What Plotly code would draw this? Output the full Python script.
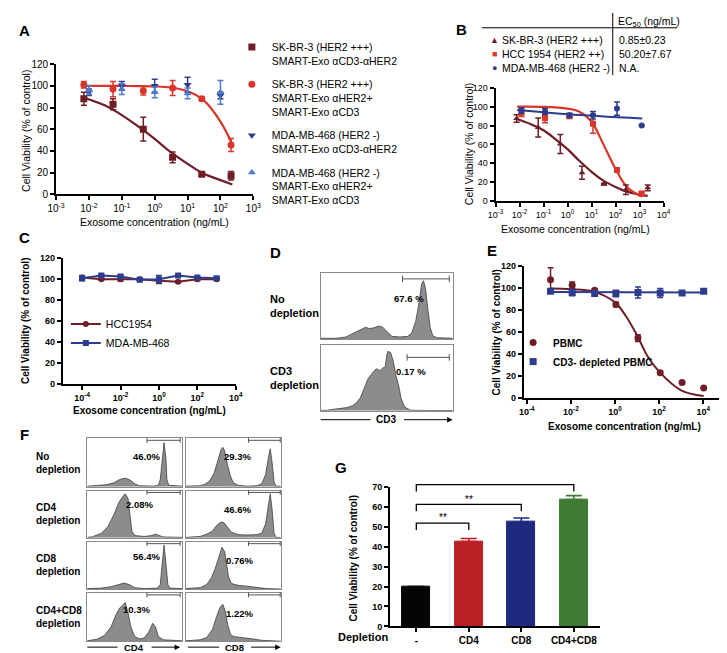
import plotly.graph_objects as go

W, H = 727, 653
FONT = "Liberation Sans, Arial, sans-serif"

maroon = "#6f1d26"
red = "#d8352b"
navy = "#2c3c8e"
lightblue = "#4d7ccc"

# ---------- A : SMART-Exo on SK-BR-3 / MDA-MB-468 ----------
a_conc = [0.007, 0.054, 0.45, 3.5, 27, 210]
a_sk_bis = [88, 83, 60, 34, 18.5, 17]
a_sk_bis_err = [6, 5, 11, 5, 1, 4]
a_sk_mix = [101, 97, 95.5, 98, 88, 45.5]
a_sk_mix_err = [3, 7, 4, 7, 2, 6]
a_mda_conc = [0.01, 0.1, 1, 10, 100]
a_mda_bis = [94, 100, 100, 101, 91]
a_mda_bis_err = [3, 4, 6, 7, 3]
a_mda_mix = [96, 97, 94, 93, 94]
a_mda_mix_err = [4, 5, 5, 5, 11]
a_fit_conc = [0.007, 0.03, 0.1, 0.3, 1, 3, 10, 30, 100, 230]
a_fit_bis = [89, 82, 73, 63, 51, 39, 28, 19, 13, 9]
a_fit_mix = [100, 100, 99.9, 99.8, 99.5, 98.5, 95, 87, 67, 46]
a_ticks = [1e-3, 1e-2, 1e-1, 1, 10, 100, 1000]
a_ticktext = ["10<sup>-3</sup>", "10<sup>-2</sup>", "10<sup>-1</sup>", "10<sup>0</sup>",
              "10<sup>1</sup>", "10<sup>2</sup>", "10<sup>3</sup>"]

# ---------- B : three cell lines ----------
b_sk_conc = [0.0076, 0.06, 0.5, 4, 33, 270, 2200]
b_sk = [87.5, 78, 60.5, 30, 18, 12, 14]
b_sk_err = [4, 10, 10, 7, 1, 5, 3]
b_conc = [0.012, 0.115, 1.2, 11.5, 115, 1230]
b_hcc = [93.5, 88, 90, 82, 33, 8]
b_hcc_err = [4, 5, 2, 10, 2, 2]
b_mda = [96, 95, 91, 91, 98, 80]
b_mda_err = [3, 3, 2, 4, 7, 0]
b_fit_sk_conc = [0.0076, 0.03, 0.1, 0.3, 1, 3, 10, 30, 100, 300, 1000, 2200]
b_fit_sk = [87, 81.5, 75, 66, 55, 43, 31, 22, 15, 10, 7, 5.5]
b_fit_hcc_conc = [0.008, 0.1, 1, 3, 10, 30, 100, 300, 1000, 1300]
b_fit_hcc = [100, 99.8, 98, 95, 84, 61, 34, 15, 6, 5]
b_fit_mda_conc = [0.008, 1, 1300]
b_fit_mda = [96.5, 92, 87.5]
b_ticks = [1e-3, 1e-2, 1e-1, 1, 10, 100, 1000, 1e4]
b_ticktext = a_ticktext + ["10<sup>4</sup>"]
b_rows = ["SK-BR-3 (HER2 +++)", "HCC 1954 (HER2 ++)", "MDA-MB-468 (HER2 -)"]
b_symbols = ["\u25b2", "\u25a0", "\u25cf"]
b_ec50 = ["0.85\u00b10.23", "50.20\u00b17.67", "N.A."]

# ---------- C : HER2 negative control exosomes ----------
c_conc = [1e-4, 1e-3, 1e-2, 1e-1, 1, 10, 100, 1000]
c_hcc = [101.5, 100, 100, 100, 98.5, 97.5, 100, 100]
c_hcc_err = [1.5, 1, 2, 1, 2.5, 1, 1.5, 1]
c_mda = [101, 103.5, 102.5, 99.5, 100, 103.5, 101.5, 101]
c_mda_err = [2.5, 1, 1.5, 1, 3.5, 1, 1, 1]
ce_ticks = [1e-4, 1e-2, 1, 100, 1e4]
ce_ticktext = ["10<sup>-4</sup>", "10<sup>-2</sup>", "10<sup>0</sup>", "10<sup>2</sup>", "10<sup>4</sup>"]

# ---------- E : PBMC vs CD3-depleted PBMC ----------
e_conc = [0.0012, 0.0115, 0.12, 1.1, 11, 112, 1100, 10500]
e_pbmc = [107.5, 102.5, 98, 85, 54.5, 23, 14, 9]
e_pbmc_err = [11, 3, 1, 2, 3, 1, 0, 0]
e_cd3 = [97, 96, 95, 95, 96, 95.5, 95.5, 97]
e_cd3_err = [1, 3, 2, 3, 5, 4, 1, 1]
e_fit_conc = [0.0012, 0.01, 0.1, 1, 3, 10, 30, 100, 1000, 10500]
e_fit_pbmc = [99.5, 99, 97, 87, 75, 57, 38, 24, 7, 1.8]
e_fit_cd3_conc = [0.0012, 10500]
e_fit_cd3 = [96.5, 96]

# ---------- G : depletion bar chart ----------
g_cats = ["-", "CD4", "CD8", "CD4+CD8"]
g_vals = [20, 42.5, 52.3, 63.5]
g_err = [0, 1.5, 2, 2]
g_colors = ["#050505", "#bb1f26", "#1f2a7e", "#3f7b35"]
g_pairs = [(0, 1), (0, 2), (0, 3)]
g_bracket = [51.7, 61.1, 71]

# ---------- D / F : flow histograms (relative channel, relative count) ----------
d_no_x = [0, 0.12, 0.19, 0.24, 0.29, 0.34, 0.37, 0.4, 0.44, 0.47, 0.5, 0.54, 0.6, 0.66, 0.69,
          0.72, 0.745, 0.765, 0.78, 0.795, 0.81, 0.83, 0.85, 0.88, 1.0]
d_no_y = [0.01, 0.01, 0.03, 0.08, 0.14, 0.18, 0.16, 0.17, 0.2, 0.18, 0.12, 0.04, 0.03, 0.04, 0.09,
          0.27, 0.55, 0.85, 0.9, 0.78, 0.5, 0.18, 0.05, 0.02, 0.01]
d_cd3_x = [0, 0.05, 0.14, 0.2, 0.24, 0.27, 0.3, 0.33, 0.36, 0.39, 0.42, 0.45, 0.47, 0.49, 0.5,
           0.51, 0.53, 0.55, 0.57, 0.59, 0.61, 0.635, 0.68, 0.8, 1.0]
d_cd3_y = [0.005, 0.01, 0.035, 0.05, 0.08, 0.12, 0.2, 0.36, 0.5, 0.58, 0.65, 0.62, 0.66, 0.68, 0.85,
           0.92, 0.9, 0.77, 0.55, 0.4, 0.19, 0.06, 0.01, 0.005, 0.005]
d_labels = ["No<br>depletion", "CD3<br>depletion"]
d_pct = ["67.6 %", "0.17 %"]

f_cd4_x = [
    [0, 0.1, 0.2, 0.28, 0.34, 0.4, 0.45, 0.5, 0.55, 0.7, 0.75, 0.77, 0.79, 0.81, 0.83, 0.84, 0.86, 1.0],
    [0, 0.05, 0.15, 0.22, 0.28, 0.33, 0.37, 0.4, 0.43, 0.45, 0.47, 0.5, 0.6, 0.68, 0.72, 0.76, 0.8, 1.0],
    [0, 0.15, 0.25, 0.33, 0.39, 0.45, 0.5, 0.6, 0.74, 0.77, 0.79, 0.81, 0.83, 0.85, 0.87, 1.0],
    [0, 0.1, 0.18, 0.25, 0.3, 0.34, 0.37, 0.4, 0.43, 0.46, 0.5, 0.55, 0.6, 0.65, 0.69, 0.72, 0.75, 0.8, 1.0],
]
f_cd4_y = [
    [0.01, 0.02, 0.04, 0.08, 0.15, 0.18, 0.14, 0.06, 0.02, 0.01, 0.03, 0.15, 0.6, 0.93, 0.6, 0.15, 0.03, 0.01],
    [0.01, 0.02, 0.1, 0.25, 0.5, 0.75, 0.88, 0.95, 0.85, 0.5, 0.15, 0.05, 0.03, 0.05, 0.08, 0.05, 0.02, 0.01],
    [0.01, 0.02, 0.05, 0.1, 0.13, 0.09, 0.03, 0.01, 0.02, 0.1, 0.5, 0.95, 0.55, 0.1, 0.02, 0.01],
    [0.01, 0.04, 0.12, 0.3, 0.55, 0.7, 0.75, 0.82, 0.6, 0.3, 0.1, 0.05, 0.07, 0.2, 0.38, 0.3, 0.1, 0.03, 0.01],
]
f_cd8_x = [
    [0, 0.15, 0.2, 0.25, 0.3, 0.34, 0.37, 0.39, 0.41, 0.44, 0.47, 0.5, 0.55, 0.65, 0.75, 0.8, 0.84, 0.87,
     0.89, 0.91, 0.93, 0.95, 1.0],
    [0, 0.15, 0.22, 0.28, 0.33, 0.37, 0.4, 0.44, 0.48, 0.55, 0.65, 0.75, 0.8, 0.84, 0.87, 0.89, 0.91,
     0.93, 0.95, 1.0],
    [0, 0.15, 0.22, 0.27, 0.31, 0.35, 0.38, 0.41, 0.43, 0.45, 0.48, 0.55, 0.65, 0.75, 0.85, 1.0],
    [0, 0.15, 0.22, 0.28, 0.32, 0.36, 0.39, 0.42, 0.44, 0.47, 0.5, 0.6, 0.7, 0.8, 1.0],
]
f_cd8_y = [
    [0.01, 0.02, 0.05, 0.12, 0.3, 0.55, 0.78, 0.83, 0.75, 0.45, 0.22, 0.08, 0.03, 0.01, 0.02, 0.06, 0.25,
     0.6, 0.8, 0.5, 0.1, 0.01, 0.01],
    [0.01, 0.03, 0.08, 0.15, 0.28, 0.34, 0.33, 0.22, 0.12, 0.07, 0.06, 0.07, 0.1, 0.3, 0.7, 0.95, 0.6,
     0.1, 0.01, 0.01],
    [0.01, 0.03, 0.1, 0.25, 0.45, 0.7, 0.9, 0.8, 0.5, 0.25, 0.12, 0.08, 0.06, 0.03, 0.01, 0.0],
    [0.01, 0.03, 0.08, 0.25, 0.5, 0.72, 0.78, 0.6, 0.35, 0.15, 0.1, 0.08, 0.05, 0.02, 0.0],
]
f_labels = ["No<br>depletion", "CD4<br>depletion", "CD8<br>depletion", "CD4+CD8<br>depletion"]
f_cd4_pct = ["46.0%", "2.08%", "56.4%", "10.3%"]
f_cd8_pct = ["29.3%", "46.6%", "0.76%", "1.22%"]


def xd(a, b):
    return [a / W, b / W]


def yd(top, bottom):
    return [1 - bottom / H, 1 - top / H]


def tfont(size, bold=False, color="black"):
    return dict(family=FONT, size=size, color=color, weight="bold" if bold else "normal")


fig = go.Figure()
axes = {}


def curve_axes(n, xdom, ydom, xrng, xticks, xtext, yrng, ydtick, size, bold):
    s = "" if n == 1 else str(n)
    common = dict(showline=True, linecolor="black", linewidth=2, ticks="outside", ticklen=4,
                  tickwidth=1.6, tickcolor="black", showgrid=False, zeroline=False,
                  tickfont=tfont(size, bold))
    axes["xaxis" + s] = dict(domain=xdom, type="log", range=xrng, tickvals=xticks, ticktext=xtext,
                             anchor="y" + s, **common)
    axes["yaxis" + s] = dict(domain=ydom, range=yrng, dtick=ydtick, anchor="x" + s, **common)


def box_axes(n, xdom, ydom):
    s = str(n)
    common = dict(showline=True, mirror=True, linecolor="#8a8a8a", linewidth=1, ticks="",
                  showticklabels=False, showgrid=False, zeroline=False, fixedrange=True)
    axes["xaxis" + s] = dict(domain=xdom, range=[0, 1], anchor="y" + s, **common)
    axes["yaxis" + s] = dict(domain=ydom, range=[0, 1.02], anchor="x" + s, **common)


def errs(arr, col, w=3):
    return dict(type="data", array=arr, color=col, thickness=1.5, width=w)


def note(text, x, y, size=10.5, bold=False, xanchor="center", angle=0, color="black", align="center"):
    fig.add_annotation(text=text, x=x / W, y=1 - y / H, xref="paper", yref="paper", showarrow=False,
                       font=tfont(size, bold, color), xanchor=xanchor, yanchor="middle",
                       textangle=angle, align=align)


def hline(x0, x1, y, col="black", w=1):
    fig.add_shape(type="line", x0=x0 / W, x1=x1 / W, y0=1 - y / H, y1=1 - y / H,
                  xref="paper", yref="paper", line=dict(color=col, width=w))


def arrow(x0, x1, y):
    fig.add_annotation(x=x1 / W, y=1 - y / H, xref="paper", yref="paper", ax=-(x1 - x0), ay=0,
                       text="", showarrow=True, arrowhead=2, arrowsize=1.1, arrowwidth=1,
                       arrowcolor="black")


# ---------------- panel A ----------------
curve_axes(1, xd(40, 242), yd(52, 184), [-3, 3], a_ticks, a_ticktext, [0, 120], 20, 10, False)
fig.add_trace(go.Scatter(x=a_fit_conc, y=a_fit_bis, mode="lines", line=dict(color=maroon, width=2.2, shape="spline"),
                         xaxis="x", yaxis="y", showlegend=False, hoverinfo="skip"))
fig.add_trace(go.Scatter(x=a_fit_conc, y=a_fit_mix, mode="lines", line=dict(color=red, width=2.2, shape="spline"),
                         xaxis="x", yaxis="y", showlegend=False, hoverinfo="skip"))
a_series = [
    (a_conc, a_sk_bis, a_sk_bis_err, "square", maroon, "SK-BR-3 (HER2 +++)<br>SMART-Exo \u03b1CD3-\u03b1HER2"),
    (a_conc, a_sk_mix, a_sk_mix_err, "circle", red, "SK-BR-3 (HER2 +++)<br>SMART-Exo \u03b1HER2+<br>SMART-Exo \u03b1CD3"),
    (a_mda_conc, a_mda_bis, a_mda_bis_err, "triangle-down", navy, "MDA-MB-468 (HER2 -)<br>SMART-Exo \u03b1CD3-\u03b1HER2"),
    (a_mda_conc, a_mda_mix, a_mda_mix_err, "triangle-up", lightblue, "MDA-MB-468 (HER2 -)<br>SMART-Exo \u03b1HER2+<br>SMART-Exo \u03b1CD3"),
]
for i, (xs, ys, es, sym, col, name) in enumerate(a_series):
    fig.add_trace(go.Scatter(x=xs, y=ys, mode="markers", marker=dict(symbol=sym, size=7, color=col),
                             error_y=errs(es, col), xaxis="x", yaxis="y", name=name,
                             legend="legend", legendgroup="a%d" % i))

# ---------------- panel B ----------------
curve_axes(2, xd(490, 662), yd(76, 191), [-3, 4], b_ticks, b_ticktext, [0, 120], 20, 9, False)
for xs, ys, col in [(b_fit_sk_conc, b_fit_sk, maroon), (b_fit_hcc_conc, b_fit_hcc, red),
                    (b_fit_mda_conc, b_fit_mda, navy)]:
    fig.add_trace(go.Scatter(x=xs, y=ys, mode="lines", line=dict(color=col, width=2.2, shape="spline"),
                             xaxis="x2", yaxis="y2", showlegend=False, hoverinfo="skip"))
for xs, ys, es, sym, col in [(b_sk_conc, b_sk, b_sk_err, "triangle-up", maroon),
                             (b_conc, b_hcc, b_hcc_err, "square", red),
                             (b_conc, b_mda, b_mda_err, "circle", navy)]:
    fig.add_trace(go.Scatter(x=xs, y=ys, mode="markers", marker=dict(symbol=sym, size=6, color=col),
                             error_y=errs(es, col), xaxis="x2", yaxis="y2", showlegend=False))

# EC50 table
fig.add_shape(type="line", x0=610 / W, x1=610 / W, y0=1, y1=1 - 63 / H, xref="paper", yref="paper",
              line=dict(color="black", width=1))
hline(476, 676, 15)
note("EC<sub>50</sub> (ng/mL)", 613, 9, size=10.5, xanchor="left")
for i, (row, sym, val, col) in enumerate(zip(b_rows, b_symbols, b_ec50, [maroon, red, navy])):
    yy = 27 + i * 14.5
    note(sym, 489, yy, size=9, color=col)
    note(row, 495, yy, size=10.5, xanchor="left")
    note(val, 614, yy, size=10.5, xanchor="left")

# ---------------- panel C ----------------
curve_axes(3, xd(47, 224), yd(249, 377), [-5, 4], ce_ticks, ce_ticktext, [0, 120], 20, 9, True)
for ys, es, sym, col, name in [(c_hcc, c_hcc_err, "circle", maroon, "HCC1954"),
                               (c_mda, c_mda_err, "square", navy, "MDA-MB-468")]:
    fig.add_trace(go.Scatter(x=c_conc, y=ys, mode="lines+markers", line=dict(color=col, width=2),
                             marker=dict(symbol=sym, size=6, color=col), error_y=errs(es, col),
                             xaxis="x3", yaxis="y3", name=name, legend="legend2"))

# ---------------- panel E ----------------
curve_axes(4, xd(519, 723), yd(257, 391), [-4.13, 4.9], ce_ticks, ce_ticktext, [0, 120], 20, 9, True)
fig.add_trace(go.Scatter(x=e_fit_conc, y=e_fit_pbmc, mode="lines", line=dict(color=maroon, width=2, shape="spline"),
                         xaxis="x4", yaxis="y4", showlegend=False, hoverinfo="skip"))
fig.add_trace(go.Scatter(x=e_fit_cd3_conc, y=e_fit_cd3, mode="lines", line=dict(color=navy, width=2),
                         xaxis="x4", yaxis="y4", showlegend=False, hoverinfo="skip"))
for ys, es, sym, col, name in [(e_pbmc, e_pbmc_err, "circle", maroon, "PBMC"),
                               (e_cd3, e_cd3_err, "square", navy, "CD3- depleted PBMC")]:
    fig.add_trace(go.Scatter(x=e_conc, y=ys, mode="markers", marker=dict(symbol=sym, size=7, color=col),
                             error_y=errs(es, col), xaxis="x4", yaxis="y4", name=name, legend="legend3"))

# ---------------- panel G ----------------
g_xr = [-0.5, 3.5]
g_yr = [0, 70]
gcommon = dict(showline=True, linecolor="black", linewidth=2, ticks="outside", ticklen=4, tickwidth=1.6,
               tickcolor="black", showgrid=False, zeroline=False)
axes["xaxis5"] = dict(domain=xd(382, 597), range=g_xr, tickvals=list(range(len(g_cats))), ticktext=g_cats,
                      anchor="y5", tickfont=tfont(10, True), **gcommon)
axes["yaxis5"] = dict(domain=yd(481, 623), range=g_yr, dtick=10, anchor="x5", tickfont=tfont(9, True), **gcommon)
for i, (v, e, col) in enumerate(zip(g_vals, g_err, g_colors)):
    fig.add_trace(go.Bar(x=[i], y=[v], width=0.54, marker=dict(color=col, line=dict(color=col, width=1)),
                         error_y=dict(type="data", array=[e], arrayminus=[0], color=col, thickness=1.6, width=8),
                         xaxis="x5", yaxis="y5", showlegend=False))
for (i0, i1), top in zip(g_pairs, g_bracket):
    fx0 = (i0 - g_xr[0]) / (g_xr[1] - g_xr[0])
    fx1 = (i1 - g_xr[0]) / (g_xr[1] - g_xr[0])
    fy1 = top / g_yr[1]
    fy0 = (top - 3.4) / g_yr[1]
    fig.add_shape(type="path", xref="x5 domain", yref="y5 domain",
                  path="M %f,%f L %f,%f L %f,%f L %f,%f" % (fx0, fy0, fx0, fy1, fx1, fy1, fx1, fy0),
                  line=dict(color="black", width=1.3))
    fig.add_annotation(text="**", x=(i0 + i1) / 2, y=top + 2.6, xref="x5", yref="y5", showarrow=False,
                       font=tfont(10), yanchor="middle")

# ---------------- panel D ----------------
d_rows = [(264, 331), (337, 404)]
for k, (xs, ys) in enumerate([(d_no_x, d_no_y), (d_cd3_x, d_cd3_y)]):
    n = 6 + k
    box_axes(n, xd(311, 446), yd(*d_rows[k]))
    fig.add_trace(go.Scatter(x=xs, y=ys, mode="lines", fill="tozeroy", fillcolor="#8c8c8c",
                             line=dict(color="#404040", width=0.8), xaxis="x%d" % n, yaxis="y%d" % n,
                             showlegend=False, hoverinfo="skip"))
d_gates = [(0.62, 0.975, 0.91), (0.655, 0.975, 0.81)]
d_pct_pos = [(0.8, 0.62), (0.81, 0.59)]

# ---------------- panel F ----------------
f_rows = [(432, 481), (485, 533), (537, 585), (589, 638)]
f_cols = [(72, 169), (173, 270)]
for r in range(4):
    for c in range(2):
        n = 8 + r * 2 + c
        box_axes(n, xd(*f_cols[c]), yd(*f_rows[r]))
        xs = f_cd4_x[r] if c == 0 else f_cd8_x[r]
        ys = f_cd4_y[r] if c == 0 else f_cd8_y[r]
        fig.add_trace(go.Scatter(x=xs, y=ys, mode="lines", fill="tozeroy", fillcolor="#8c8c8c",
                                 line=dict(color="#404040", width=0.8), xaxis="x%d" % n, yaxis="y%d" % n,
                                 showlegend=False, hoverinfo="skip"))
f_pct_pos = [[(0.62, 0.78), (0.71, 0.79)], [(0.55, 0.86), (0.71, 0.75)],
             [(0.62, 0.84), (0.73, 0.76)], [(0.52, 0.82), (0.73, 0.74)]]


def gate(n, x0, x1, y, cap=0.05):
    ref = dict(xref="x%d domain" % n, yref="y%d domain" % n, line=dict(color="#555555", width=1))
    fig.add_shape(type="line", x0=x0, x1=x1, y0=y, y1=y, **ref)
    fig.add_shape(type="line", x0=x0, x1=x0, y0=y - cap, y1=y + cap, **ref)
    fig.add_shape(type="line", x0=x1, x1=x1, y0=y - cap, y1=y + cap, **ref)


for k in range(2):
    gate(6 + k, *d_gates[k])
    fig.add_annotation(text=d_pct[k], x=d_pct_pos[k][0], y=d_pct_pos[k][1], xref="x%d domain" % (6 + k),
                       yref="y%d domain" % (6 + k), showarrow=False, font=tfont(9.5, True))
for r in range(4):
    for c in range(2):
        n = 8 + r * 2 + c
        if c == 0:
            gate(n, 0.63, 0.98, 0.96)
        else:
            gate(n, 0.66, 0.995, 0.96)
        txt = f_cd4_pct[r] if c == 0 else f_cd8_pct[r]
        fig.add_annotation(text=txt, x=f_pct_pos[r][c][0], y=f_pct_pos[r][c][1], xref="x%d domain" % n,
                           yref="y%d domain" % n, showarrow=False, font=tfont(9.5, True))

# ---------------- labels ----------------
for letter, x, y in [("A", 8, 18), ("B", 455, 17), ("C", 8, 228), ("D", 265, 243), ("E", 486, 241),
                     ("F", 8, 428), ("G", 332, 462)]:
    note(letter, x, y, size=15, bold=True)

note("Cell Viability (% of control)", 9, 120, size=10.5, angle=-90)
note("Exosome concentration (ng/mL)", 141, 212, size=10.5)
note("Cell Viability (% of control)", 463, 133, size=10.5, angle=-90)
note("Exosome concentration (ng/mL)", 572, 219, size=10.5)
note("Cell Viability (% of control)", 8, 312, size=10, bold=True, angle=-90)
note("Exosome concentration (ng/mL)", 136, 404, size=10, bold=True)
note("Cell Viability (% of control)", 490, 324, size=10, bold=True, angle=-90)
note("Exosome concentration (ng/mL)", 622, 420, size=10, bold=True)
note("Cell Viability (% of control)", 345, 553, size=10, bold=True, angle=-90)
note("Depletion", 327, 634, size=11, bold=True, xanchor="left")

for k, lab in enumerate(d_labels):
    note(lab, 257, (d_rows[k][0] + d_rows[k][1]) / 2, size=11, bold=True, xanchor="left", align="left")
for r, lab in enumerate(f_labels):
    note(lab, 17, (f_rows[r][0] + f_rows[r][1]) / 2, size=10, bold=True, xanchor="left", align="left")

# flow axis captions
hline(311, 362, 413)
note("CD3", 378, 413, size=10, bold=True)
arrow(396, 446, 413)
hline(72, 103, 644)
note("CD4", 120, 644, size=9.5, bold=True)
arrow(137, 167, 644)
hline(175, 207, 644)
note("CD8", 223, 644, size=9.5, bold=True)
arrow(239, 270, 644)

fig.update_layout(
    width=W, height=H, margin=dict(l=0, r=0, t=0, b=0),
    paper_bgcolor="white", plot_bgcolor="white",
    font=dict(family=FONT, color="black"),
    legend=dict(x=220 / W, y=1 - 21 / H, xanchor="left", yanchor="top", valign="top",
                font=tfont(10.5), tracegroupgap=7, itemwidth=30, bgcolor="rgba(0,0,0,0)"),
    legend2=dict(x=50 / W, y=1 - 301 / H, xanchor="left", yanchor="top", font=tfont(10.5),
                 itemwidth=30, bgcolor="rgba(0,0,0,0)"),
    legend3=dict(x=508 / W, y=1 - 320 / H, xanchor="left", yanchor="top", font=tfont(10, True),
                 itemwidth=30, bgcolor="rgba(0,0,0,0)"),
    bargap=0,
    **axes,
)

fig.write_html("out.html")
